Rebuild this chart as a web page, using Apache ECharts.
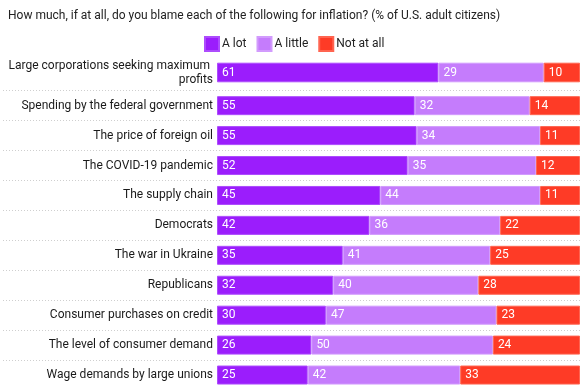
<!DOCTYPE html>
<html><head><meta charset="utf-8">
<script src="https://cdn.jsdelivr.net/npm/echarts@6/dist/echarts.min.js"></script>
<style>html,body{margin:0;padding:0;background:#fff}#c{width:585px;height:390px}</style>
</head><body><div id="c"></div>
<script>
const title = 'How much, if at all, do you blame each of the following for inflation? (% of U.S. adult citizens)';
const categories = [
  'Large corporations seeking maximum profits',
  'Spending by the federal government',
  'The price of foreign oil',
  'The COVID-19 pandemic',
  'The supply chain',
  'Democrats',
  'The war in Ukraine',
  'Republicans',
  'Consumer purchases on credit',
  'The level of consumer demand',
  'Wage demands by large unions'
];
const seriesNames = ['A lot', 'A little', 'Not at all'];
const aLot = [61, 55, 55, 52, 45, 42, 35, 32, 30, 26, 25];
const aLittle = [29, 32, 34, 35, 44, 36, 41, 40, 47, 50, 42];
const notAtAll = [10, 14, 11, 12, 11, 22, 25, 28, 23, 24, 33];
const colors = ['#9b1dfc', '#c57cfc', '#fe3b26'];
const borders = ['#ad4cfd', '#d29bfd', '#ff6450'];

const values = [aLot, aLittle, notAtAll];
// each row is drawn as a share of its own total (rows sum to 99-101)
const rowTotals = aLot.map((v, r) => aLot[r] + aLittle[r] + notAtAll[r]);
const FONT = 'Roboto, "Noto Sans", sans-serif';

function makeSeries(gridIdx, start, end, barW) {
  return seriesNames.map((name, i) => ({
    name: name,
    type: 'bar',
    stack: 's' + gridIdx,
    xAxisIndex: gridIdx,
    yAxisIndex: gridIdx,
    barWidth: barW,
    data: values[i].slice(start, end).map((v, k) => ({
      value: v / rowTotals[start + k] * 100,
      raw: v
    })),
    itemStyle: { color: colors[i], borderColor: borders[i], borderWidth: 1 },
    label: {
      show: true, position: 'insideLeft', distance: 5,
      color: '#fff', fontSize: 12, fontFamily: FONT,
      formatter: p => String(p.data.raw)
    },
    emphasis: { disabled: true },
    animation: false
  }));
}

const chart = echarts.init(document.getElementById('c'), null, { renderer: 'canvas' });
const catLabel = {
  fontSize: 12, color: '#1a1a1a', fontFamily: FONT, margin: 4,
  width: 208, overflow: 'break', lineHeight: 14, align: 'right'
};
chart.setOption({
  animation: false,
  title: {
    text: title, left: 3, top: 5,
    textStyle: { fontSize: 12, fontWeight: 'normal', color: '#222', fontFamily: FONT }
  },
  legend: {
    data: seriesNames, left: 199, top: 31, itemWidth: 14, itemHeight: 14, itemGap: 10,
    icon: 'rect', selectedMode: false,
    textStyle: { fontSize: 12, color: '#222', fontFamily: FONT, padding: [0, 0, 0, -2] }
  },
  grid: [
    { left: 217, right: 5, top: 62.7, height: 19.6 },
    { left: 217, right: 5, top: 90.7, height: 300 },
    { left: 3, right: 5, top: 90.7, height: 300 }
  ],
  xAxis: [
    { gridIndex: 0, type: 'value', min: 0, max: 100, show: false },
    { gridIndex: 1, type: 'value', min: 0, max: 100, show: false },
    { gridIndex: 2, type: 'value', min: 0, max: 100, show: false }
  ],
  yAxis: [
    { gridIndex: 0, type: 'category', inverse: true, data: categories.slice(0, 1),
      axisLine: { show: false }, axisTick: { show: false }, splitLine: { show: false },
      axisLabel: catLabel },
    { gridIndex: 1, type: 'category', inverse: true, data: categories.slice(1),
      axisLine: { show: false }, axisTick: { show: false }, splitLine: { show: false },
      axisLabel: catLabel },
    { gridIndex: 2, type: 'category', inverse: true, data: categories.slice(1),
      axisLine: { show: false }, axisTick: { show: false }, axisLabel: { show: false },
      splitLine: { show: true, lineStyle: { color: '#cfcfcf', type: [1, 2], width: 1 } } }
  ],
  series: [].concat(
    makeSeries(0, 0, 1, 19.6),
    makeSeries(1, 1, categories.length, 19)
  )
});
</script>
</body></html>
